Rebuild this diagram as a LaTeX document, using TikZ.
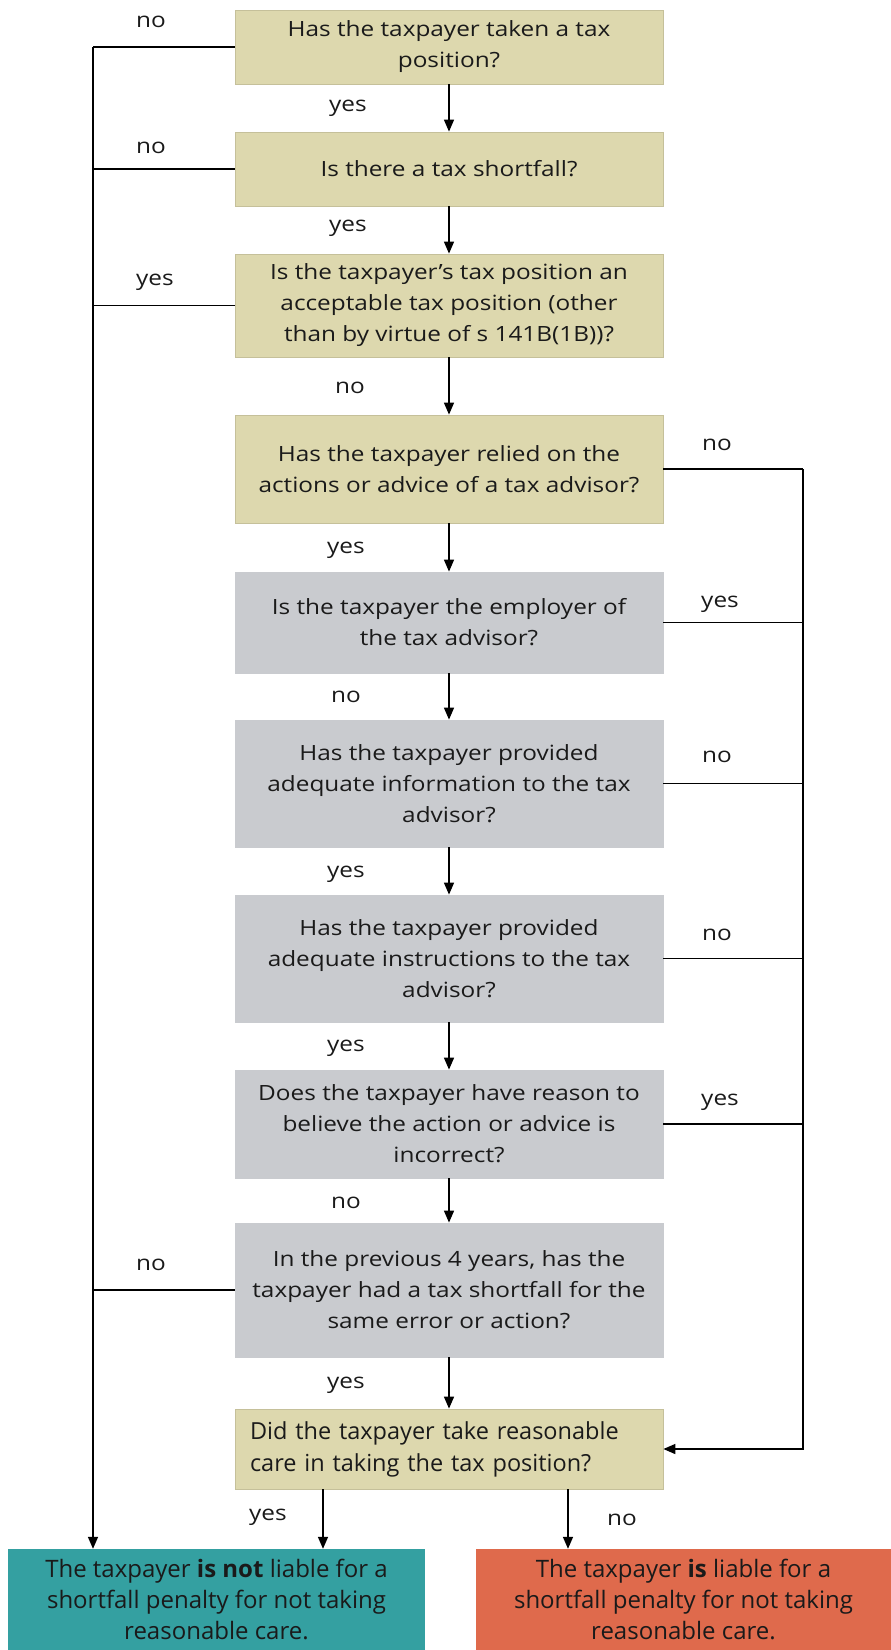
\documentclass[tikz,border=0pt]{standalone}
\usepackage{fontspec}
\setmainfont{Open Sans}
\newfontfamily\widefont[FakeStretch=1.16]{Open Sans}
\usetikzlibrary{arrows.meta}
\definecolor{tanfill}{HTML}{DDD8AE}
\definecolor{tanline}{HTML}{C5C09A}
\definecolor{greyfill}{HTML}{C9CBCF}
\definecolor{tealfill}{HTML}{34A0A1}
\definecolor{orangefill}{HTML}{DF6A4C}
\definecolor{txt}{HTML}{1A1A1A}
\begin{document}
\begin{tikzpicture}[x=1pt,y=-1pt,
  font=\widefont\fontsize{21}{31}\selectfont, text=txt,
  qbox/.style={draw=tanline, line width=0.8pt, minimum width=428pt, align=center, inner sep=0pt},
  tanbox/.style={qbox, fill=tanfill},
  greybox/.style={qbox, fill=greyfill, draw=greyfill},
  endbox/.style={minimum height=101pt, align=center, inner sep=0pt, font=\normalfont\fontsize{24}{31}\selectfont},
  lbl/.style={inner sep=0pt},
  con/.style={line width=1.5pt, draw=black},
  arr/.style={con, -{Triangle[length=12pt,width=10pt]}}
]
\useasboundingbox (0,0) rectangle (891,1650);

\node[tanbox, minimum height=74pt] (b1) at (449,47) {Has the taxpayer taken a tax\\position?};
\node[tanbox, minimum height=74pt] (b2) at (449,169) {Is there a tax shortfall?};
\node[tanbox, minimum height=103pt] (b3) at (449,305.5) {Is the taxpayer’s tax position an\\acceptable tax position (other\\than by virtue of s 141B(1B))?};
\node[tanbox, minimum height=108pt] (b4) at (449,469) {Has the taxpayer relied on the\\actions or advice of a tax advisor?};
\node[greybox, minimum height=101pt] (b5) at (449,622.5) {Is the taxpayer the employer of\\the tax advisor?};
\node[greybox, minimum height=127pt] (b6) at (449,783.5) {Has the taxpayer provided\\adequate information to the tax\\advisor?};
\node[greybox, minimum height=127pt] (b7) at (449,958.5) {Has the taxpayer provided\\adequate instructions to the tax\\advisor?};
\node[greybox, minimum height=108pt] (b8) at (449,1124) {Does the taxpayer have reason to\\believe the action or advice is\\incorrect?};
\node[greybox, minimum height=134pt] (b9) at (449,1290) {In the previous 4 years, has the\\taxpayer had a tax shortfall for the\\same error or action?};
\node[tanbox, minimum height=80pt, align=left, text width=398pt, font=\normalfont\fontsize{23.5}{32}\selectfont] (b10) at (449,1449) {Did the taxpayer take reasonable\\care in taking the tax position?};
\node[endbox, fill=tealfill, minimum width=417pt] (b11) at (216.5,1599.5) {The taxpayer \textbf{is not} liable for a\\shortfall penalty for not taking\\reasonable care.};
\node[endbox, fill=orangefill, minimum width=415pt] (b12) at (683.5,1599.5) {The taxpayer \textbf{is} liable for a\\shortfall penalty for not taking\\reasonable care.};

% vertical flow
\draw[arr] (b1) -- (b2);
\draw[arr] (b2) -- (b3);
\draw[arr] (b3) -- (b4);
\draw[arr] (b4) -- (b5);
\draw[arr] (b5) -- (b6);
\draw[arr] (b6) -- (b7);
\draw[arr] (b7) -- (b8);
\draw[arr] (b8) -- (b9);
\draw[arr] (b9) -- (b10);
\draw[arr] ([xshift=-126pt]b10.south) -- ([xshift=-126pt]b10.south |- b11.north);
\draw[arr] ([xshift=119pt]b10.south) -- ([xshift=119pt]b10.south |- b12.north);

% left trunk
\coordinate (L1) at (93,47);
\draw[con] (b1.west) -- (L1);
\draw[arr] (L1) -- (L1 |- b11.north);
\draw[con] (b2.west) -- (b2.west -| L1);
\draw[con] (b3.west) -- (b3.west -| L1);
\draw[con] (b9.west) -- (b9.west -| L1);

% right trunk
\coordinate (R1) at (803,469);
\draw[con] (b4.east) -- (R1);
\draw[arr] (R1) -- (R1 |- b10.east) -- (b10.east);
\draw[con] (b5.east) -- (b5.east -| R1);
\draw[con] (b6.east) -- (b6.east -| R1);
\draw[con] (b7.east) -- (b7.east -| R1);
\draw[con] (b8.east) -- (b8.east -| R1);

% labels
\node[lbl] (n1) at (151,22) {no};
\node[lbl] (y1) at (348,108) {yes};
\node[lbl] (n2) at (151,148) {no};
\node[lbl] (y2) at (348,228) {yes};
\node[lbl] (y3) at (155,282) {yes};
\node[lbl] (n3) at (350,388) {no};
\node[lbl] (n4) at (717,445) {no};
\node[lbl] (y4) at (346,550) {yes};
\node[lbl] (y5) at (720,604) {yes};
\node[lbl] (n5) at (346,697) {no};
\node[lbl] (n6) at (717,757) {no};
\node[lbl] (y6) at (346,874) {yes};
\node[lbl] (n7) at (717,935) {no};
\node[lbl] (y7) at (346,1048) {yes};
\node[lbl] (y8) at (720,1102) {yes};
\node[lbl] (n8) at (346,1203) {no};
\node[lbl] (n9) at (151,1265) {no};
\node[lbl] (y9) at (346,1385) {yes};
\node[lbl] (y10) at (268,1517) {yes};
\node[lbl] (n10) at (622,1520) {no};
\end{tikzpicture}
\end{document}
